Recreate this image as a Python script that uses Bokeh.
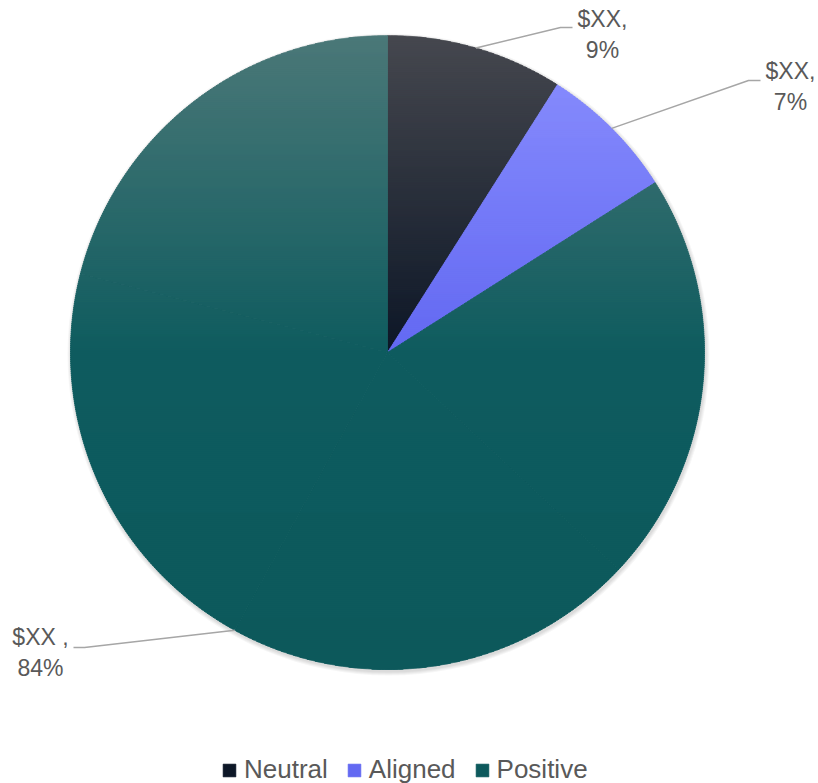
import numpy as np
from bokeh.plotting import figure
from bokeh.models import Range1d, ColumnDataSource, Legend, LegendItem
from bokeh.embed import file_html
from bokeh.resources import INLINE
from bokeh.core.properties import value

# ---- data ----
categories = ["Neutral", "Aligned", "Positive"]
shares = [9, 7, 84]
label_values = ["$XX,", "$XX,", "$XX ,"]
label_pcts = ["9%", "7%", "84%"]

# ---- style / layout ----
W, H = 818, 783
CX, CY, R = 387, 352, 317
grad_stops = {
    "Neutral": [(0.0, "#46484f"), (1.0, "#0d1727")],
    "Aligned": [(0.0, "#858afd"), (1.0, "#6369f2")],
    "Positive": [(0.0, "#4b7878"), (0.5, "#0f5c5f"), (1.0, "#0d595c")],
}
label_anchor = {  # (elbow x, elbow y, end x, text center x, text top y)
    "Neutral": (560, 27, 572, 602, 5),
    "Aligned": (748, 80, 760, 790, 57),
    "Positive": (84, 647, 73, 40, 623),
}
TEXT_COLOR = "#595959"
FONT = "Liberation Sans"


def hex2rgb(h):
    h = h.lstrip("#")
    return np.array([int(h[i:i + 2], 16) for i in (0, 2, 4)], dtype=float)


def color_at(stops, f):
    f = min(max(f, 0.0), 1.0)
    for (f0, c0), (f1, c1) in zip(stops[:-1], stops[1:]):
        if f0 <= f <= f1:
            t = 0 if f1 == f0 else (f - f0) / (f1 - f0)
            c = hex2rgb(c0) * (1 - t) + hex2rgb(c1) * t
            return "#%02x%02x%02x" % tuple(int(round(v)) for v in c)
    return stops[-1][1]


def clip_half(pts, keep, yb):
    out = []
    n = len(pts)
    for i in range(n):
        cur, prev = pts[i], pts[i - 1]
        cin, pin = keep(cur[1]), keep(prev[1])
        if cin != pin:
            t = (yb - prev[1]) / (cur[1] - prev[1])
            out.append((prev[0] + t * (cur[0] - prev[0]), yb))
        if cin:
            out.append(cur)
    return out


def clip_band(poly, y0, y1):
    pts = clip_half(poly, lambda y: y >= y0, y0)
    if len(pts) < 3:
        return []
    pts = clip_half(pts, lambda y: y <= y1, y1)
    return pts


def pt(theta_deg, r=R):
    t = np.radians(theta_deg)
    return (CX + r * np.sin(t), CY - r * np.cos(t))


p = figure(width=W, height=H, output_backend="svg", toolbar_location=None,
           x_range=Range1d(0, W), y_range=Range1d(H, 0), min_border=0)
p.axis.visible = False
p.grid.visible = False
p.outline_line_color = None
p.background_fill_color = "white"
p.border_fill_color = "white"

# soft shadow
p.circle(x=[CX + 1] * 4, y=[CY + 2] * 4, radius=[R + 4, R + 3, R + 2, R + 1],
         fill_color="black", fill_alpha=0.035, line_color=None)

total = float(sum(shares))
cum = 0.0
renderers = []
for cat, s in zip(categories, shares):
    a0 = cum / total * 360.0
    a1 = (cum + s) / total * 360.0
    mid = (a0 + a1) / 2
    cum += s
    # split into convex sub-wedges (<= 90 deg) so band clipping is exact
    nsub = int(np.ceil((a1 - a0) / 90.0))
    subs = np.linspace(a0, a1, nsub + 1)
    polys = []
    for b0, b1 in zip(subs[:-1], subs[1:]):
        n = max(8, int((b1 - b0) * 2))
        polys.append([(CX, CY)] + [pt(a) for a in np.linspace(b0, b1, n)])
    ys_all = [q[1] for poly in polys for q in poly]
    ymin, ymax = min(ys_all), max(ys_all)
    step = 2.0
    edges = np.arange(ymin, ymax + step, step)
    bx, by, bc = [], [], []
    for y0 in edges[::-1]:
        y1 = y0 + step
        f = ((y0 + y1) / 2 - ymin) / max(ymax - ymin, 1e-9)
        col = color_at(grad_stops[cat], f)
        for poly in polys:
            piece = clip_band(poly, y0 - 0.4, y1 + 0.4)
            if len(piece) < 3:
                continue
            bx.append([q[0] for q in piece])
            by.append([q[1] for q in piece])
            bc.append(col)
    src = ColumnDataSource(dict(xs=bx, ys=by, c=bc))
    r = p.patches("xs", "ys", source=src, fill_color="c", line_color="c",
                  line_width=0.6)
    renderers.append(r)

    # leader line
    ex, ey = pt(mid)
    elx, ely, endx, tx, ty = label_anchor[cat]
    p.line([ex, elx, endx], [ey, ely, ely], line_color="#a6a6a6", line_width=1.5)

for cat, lv, lp in zip(categories, label_values, label_pcts):
    elx, ely, endx, tx, ty = label_anchor[cat]
    p.text(x=[tx], y=[ty], text=[lv + "\n" + lp], text_align="center",
           text_baseline="top", text_font=value(FONT), text_font_size="23px",
           text_color=TEXT_COLOR)

legend = Legend(items=[LegendItem(label=c, renderers=[r]) for c, r in zip(categories, renderers)],
                orientation="horizontal", location=(221, -2),
                label_text_font=FONT, label_text_font_size="26px",
                label_text_color=TEXT_COLOR, glyph_width=16, glyph_height=16,
                label_standoff=7, spacing=18, padding=0, margin=0,
                border_line_color=None, background_fill_alpha=0)
p.add_layout(legend, "center")

open("out.html", "w").write(file_html(p, INLINE))
